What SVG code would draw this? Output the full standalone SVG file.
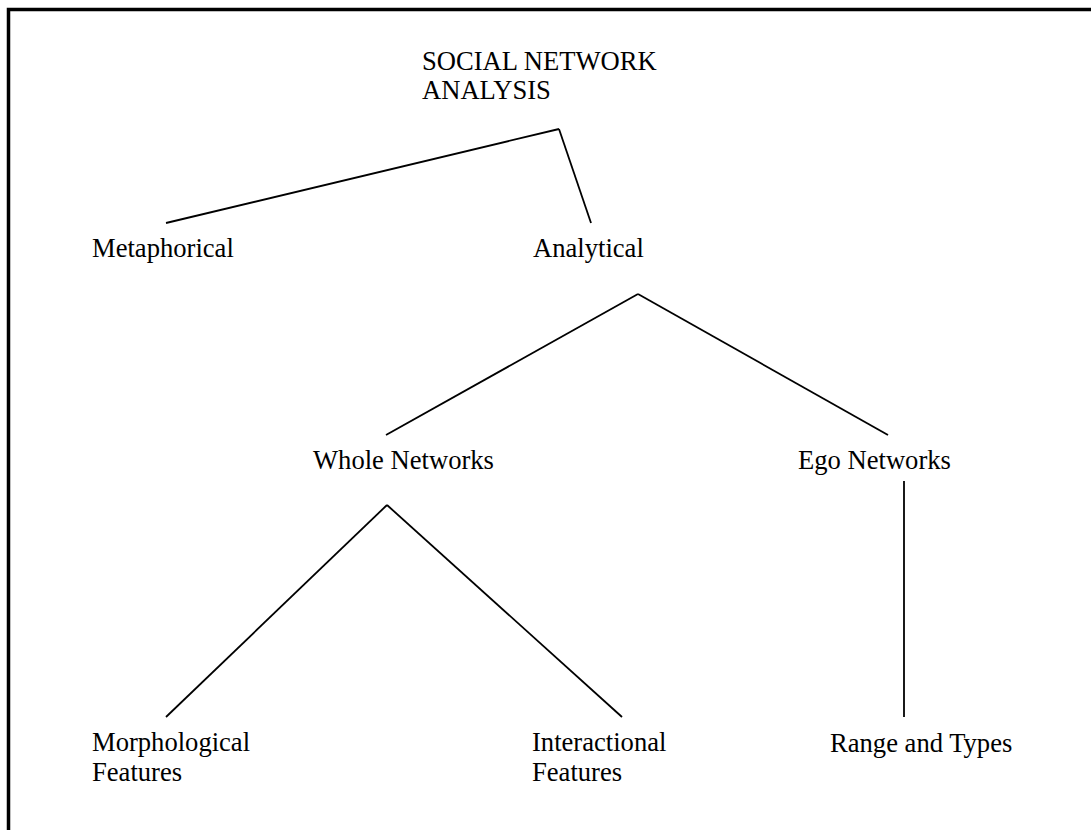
<svg xmlns="http://www.w3.org/2000/svg" width="1091" height="830" viewBox="0 0 1091 830">
<style>
text{font-family:"Liberation Serif","Times New Roman",serif;font-size:26.6px;fill:#000}
.c line{stroke:#000;stroke-width:1.8;stroke-linecap:butt}
</style>
<rect x="0" y="0" width="1091" height="830" fill="#fff"/>
<path d="M8.5 830 V9.5 H1091" fill="none" stroke="#000" stroke-width="3.5"/>
<g class="c" id="connectors">
<line x1="559" y1="129" x2="166" y2="223"/>
<line x1="559" y1="129" x2="591" y2="223"/>
<line x1="638" y1="294" x2="386" y2="435"/>
<line x1="638" y1="294" x2="888" y2="435"/>
<line x1="387" y1="505" x2="166" y2="717"/>
<line x1="387" y1="505" x2="622" y2="717"/>
<line x1="904" y1="481" x2="904" y2="717"/>
</g>
<g id="root"><text x="422" y="70">SOCIAL NETWORK</text><text x="422" y="99">ANALYSIS</text></g>
<g id="metaphorical"><text x="92" y="257">Metaphorical</text></g>
<g id="analytical"><text x="533" y="257">Analytical</text></g>
<g id="whole"><text x="313" y="469">Whole Networks</text></g>
<g id="ego"><text x="798" y="469">Ego Networks</text></g>
<g id="morph"><text x="92" y="751">Morphological</text><text x="92" y="781">Features</text></g>
<g id="inter"><text x="532" y="751">Interactional</text><text x="532" y="781">Features</text></g>
<g id="range"><text x="830" y="752">Range and Types</text></g>
</svg>
